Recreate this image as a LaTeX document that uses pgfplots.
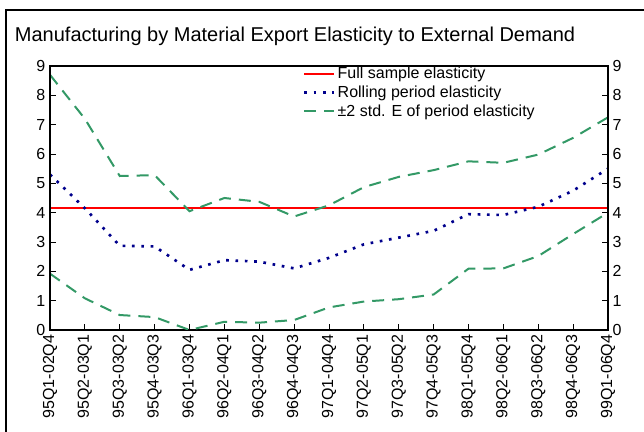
\documentclass[border=0pt]{standalone}
\usepackage{fontspec}
\setmainfont{Liberation Sans}
\usepackage{pgfplots}
\pgfplotsset{compat=1.18}
\definecolor{navyb}{RGB}{0,0,140}
\definecolor{sgreen}{RGB}{51,153,102}
\pgfplotsset{
  common/.style={
    at={(37.5pt,76.5pt)}, anchor=south west, scale only axis,
    width=418.5pt, height=198pt,
    xmin=0, xmax=16, ymin=0, ymax=9,
    ytick={0,...,9},
    tick align=inside, major tick length=4.5pt,
    axis line style={line width=0.8pt},
    major tick style={line width=0.6pt, black},
    tick label style={font=\fontsize{12pt}{14pt}\selectfont},
    /pgf/number format/assume math mode=true,
  }
}
\begin{document}
\begin{tikzpicture}
\useasboundingbox (0,0) rectangle (483pt,324pt);
\draw[line width=1.5pt] (4.5pt,-2pt) -- (4.5pt,316.5pt) -- (486pt,316.5pt);
\node[anchor=west, inner sep=0pt, font=\fontsize{15}{17}\selectfont] at (11pt,296.5pt) {Manufacturing by Material Export Elasticity to External Demand};
\begin{axis}[common,
  xtick={0,...,16},
  xticklabels={95Q1-02Q4,95Q2-03Q1,95Q3-03Q2,95Q4-03Q3,96Q1-03Q4,96Q2-04Q1,96Q3-04Q2,96Q4-04Q3,97Q1-04Q4,97Q2-05Q1,97Q3-05Q2,97Q4-05Q3,98Q1-05Q4,98Q2-06Q1,98Q3-06Q2,98Q4-06Q3,99Q1-06Q4},
  xticklabel style={rotate=90, anchor=east},
  xtick pos=bottom, ytick pos=left,
  legend style={draw=none, fill=none, at={(0.453,1.008)}, anchor=north west,
    font=\fontsize{12}{14}\selectfont, row sep=0pt, inner sep=0pt},
  legend cell align=left,
  legend image code/.code={\draw[#1] (0pt,0pt) -- (22pt,0pt);},
]
\addplot[red, line width=1.5pt] coordinates {(0,4.15) (16,4.15)};
\addlegendentry{Full sample elasticity}
\addplot[navyb, line width=2pt, dash pattern=on 2pt off 5pt] coordinates {
(0,5.3) (1,4.15) (2,2.87) (3,2.85) (4,2.05) (5,2.38) (6,2.33) (7,2.1) (8,2.46) (9,2.92) (10,3.15) (11,3.38) (12,3.95) (13,3.92) (14,4.2) (15,4.75) (16,5.5)};
\addlegendentry{Rolling period elasticity}
\addplot[sgreen, line width=1.5pt, dash pattern=on 9pt off 6pt] coordinates {
(0,8.7) (1,7.2) (2,5.25) (3,5.28) (4,4.05) (5,4.5) (6,4.37) (7,3.87) (8,4.25) (9,4.87) (10,5.22) (11,5.45) (12,5.75) (13,5.7) (14,5.98) (15,6.55) (16,7.25)};
\addlegendentry{±2 std. E of period elasticity}
\addplot[sgreen, line width=1.5pt, dash pattern=on 9pt off 6pt, forget plot] coordinates {
(0,1.92) (1,1.08) (2,0.51) (3,0.44) (4,0.0) (5,0.28) (6,0.25) (7,0.34) (8,0.77) (9,0.97) (10,1.05) (11,1.21) (12,2.09) (13,2.1) (14,2.52) (15,3.27) (16,4.0)};
\end{axis}
\begin{axis}[common, hide x axis, ytick pos=right, yticklabel pos=right]
\end{axis}
\end{tikzpicture}
\end{document}
